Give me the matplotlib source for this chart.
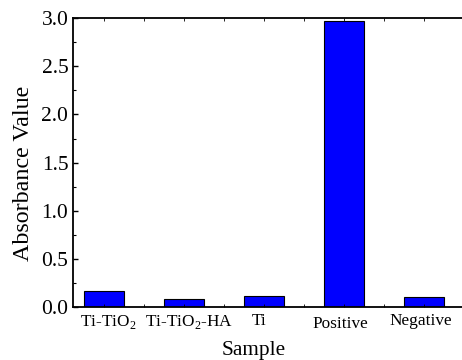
import matplotlib
matplotlib.use("Agg")
import matplotlib.pyplot as plt
from matplotlib.ticker import MultipleLocator, FixedLocator, FormatStrFormatter
from matplotlib.transforms import ScaledTranslation

categories = ["Ti-TiO$_2$", "Ti-TiO$_2$-HA", "Ti", "Positive", "Negative"]
values = [0.169, 0.086, 0.114, 2.97, 0.104]

# small per-label nudges (pixels) to mimic the hand-placed labels
label_dx = [4, 5, -5, -4, -3]
label_dy = [0, 0, 0, -3, 0]

plt.rcParams['font.family'] = ['Liberation Serif', 'DejaVu Serif']
plt.rcParams['mathtext.fontset'] = 'custom'
plt.rcParams['mathtext.rm'] = 'Liberation Serif'

fig = plt.figure(figsize=(4.62, 3.6), dpi=100)
ax = fig.add_axes([72.5 / 462, 1 - 307.3 / 360, 393 / 462, 289.3 / 360])

x = list(range(1, len(values) + 1))
ax.bar(x, values, width=0.51, color='#0000FF', edgecolor='black', linewidth=0.8)

ax.set_xlim(0.606, 0.606 + 393 / 80)
ax.set_ylim(0, 3.0)
ax.set_xticks(x)
ax.set_xticklabels(categories, fontsize=12.4)
ax.xaxis.set_minor_locator(FixedLocator([i + 0.5 for i in range(0, 6)]))
ax.tick_params(axis='x', which='both', direction='in', length=2, top=True, width=0.6, pad=4)
for lab, dx, dy in zip(ax.get_xticklabels(), label_dx, label_dy):
    lab.set_transform(lab.get_transform() + ScaledTranslation(dx / 100, dy / 100, fig.dpi_scale_trans))

ax.yaxis.set_major_locator(MultipleLocator(0.5))
ax.yaxis.set_minor_locator(MultipleLocator(0.25))
ax.tick_params(axis='y', which='major', direction='in', length=3.5, width=1, labelsize=15.5, pad=3)
ax.tick_params(axis='y', which='minor', direction='in', length=1.8, width=0.8)
ax.yaxis.set_major_formatter(FormatStrFormatter('%.1f'))

for s in ax.spines.values():
    s.set_linewidth(1.3)

ax.set_ylabel("Absorbance Value", fontsize=17.3)
ax.yaxis.set_label_coords(-0.099, (307.3 - 173) / 289.3)
ax.set_xlabel("Sample", fontsize=15.3)
ax.xaxis.set_label_coords((253.5 - 72.5) / 393, -(341 - 307.3) / 289.3)

fig.savefig("out.png", dpi=100)
